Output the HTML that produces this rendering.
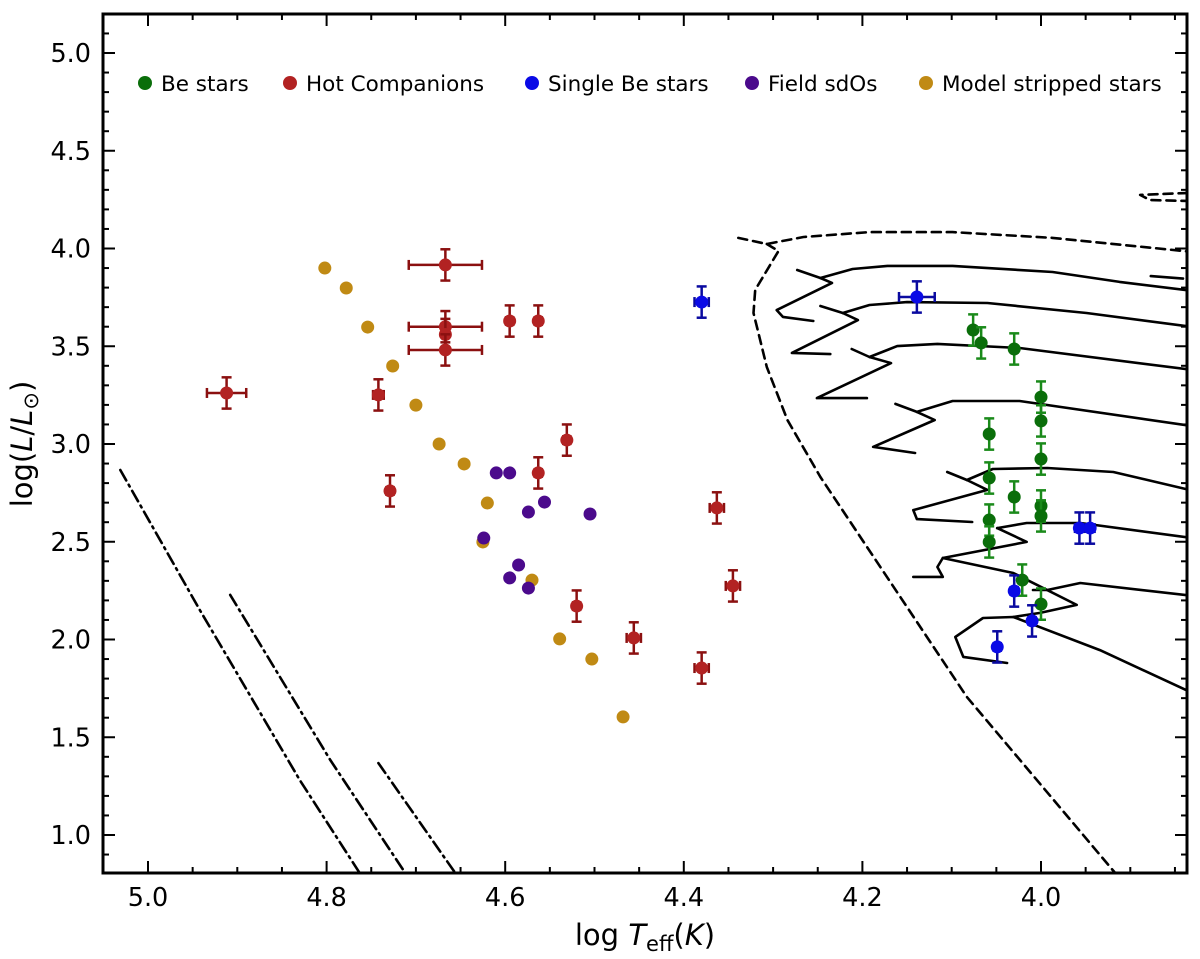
<!DOCTYPE html>
<html><head><meta charset="utf-8"><style>
body{margin:0;background:#fff;font-family:"DejaVu Sans","Liberation Sans",sans-serif;}
svg text{font-family:"DejaVu Sans","Liberation Sans",sans-serif;}
</style></head><body>
<svg id="chart" width="1200" height="955" xmlns="http://www.w3.org/2000/svg">
<g id="lines"></g>
<g id="marks"></g>
<g id="axes"></g>
<g id="legend"></g>
</svg>
<script>
// ---- data ----
const beT=[4.076,4.067,4.030,4.000,4.000,4.058,4.000,4.058,4.030,4.000,4.000,4.058,4.058,4.021,4.000];
const beL=[3.583,3.517,3.486,3.240,3.118,3.051,2.923,2.826,2.729,2.683,2.632,2.611,2.499,2.304,2.181];
const sbT=[4.380,4.139,3.957,3.945,4.030,4.010,4.049];
const sbL=[3.726,3.752,2.570,2.570,2.248,2.095,1.962];
const sbXe=[0.008,0.02,0.005,0.005,0.004,0.004,0.004];
const hcT=[4.912,4.667,4.667,4.667,4.667,4.595,4.563,4.742,4.729,4.531,4.563,4.363,4.345,4.520,4.456,4.380];
const hcL=[3.261,3.916,3.600,3.560,3.481,3.629,3.629,3.251,2.760,3.020,2.852,2.673,2.274,2.171,2.008,1.854];
const hcXe=[0.022,0.041,0.041,0.0,0.041,0.004,0.004,0.006,0.004,0.004,0.004,0.008,0.008,0.004,0.008,0.008];
const sdT=[4.610,4.595,4.556,4.574,4.505,4.624,4.585,4.595,4.574];
const sdL=[2.852,2.852,2.703,2.652,2.642,2.519,2.381,2.315,2.263];
const msT=[4.802,4.778,4.754,4.726,4.700,4.674,4.646,4.620,4.625,4.570,4.539,4.503,4.468];
const msL=[3.900,3.798,3.598,3.399,3.199,3.000,2.898,2.698,2.499,2.304,2.003,1.900,1.604];
const yErr=0.08;
const xTicks=[5.0,4.8,4.6,4.4,4.2,4.0];
const yTicks=[1.0,1.5,2.0,2.5,3.0,3.5,4.0,4.5,5.0];
const dd1T=[5.031,4.942,4.830,4.763], dd1L=[2.867,2.151,1.281,0.806];
const dd2T=[4.908,4.796,4.712], dd2L=[2.228,1.384,0.806];
const dd3T=[4.742,4.656], dd3L=[1.368,0.806];
const zT=[4.339,4.307,4.266,4.192,4.099,3.987,3.836];
const zL=[4.054,4.023,4.059,4.084,4.084,4.054,3.985];
const z2T=[4.307,4.294,4.320,4.322,4.307,4.284,4.247,4.083,3.917];
const z2L=[4.023,3.987,3.788,3.670,3.394,3.123,2.831,1.706,0.806];
const zsT=[3.836,3.889,3.878,3.836], zsL=[4.284,4.274,4.248,4.243];
const tracksT=[
 [4.255,4.289,4.296,4.234,4.247,4.273],[4.247,4.211,4.172,4.099,3.987,3.912,3.836],
 [4.236,4.279,4.205,4.222,4.247],[4.222,4.192,4.150,4.060,3.949,3.836],
 [4.195,4.251,4.168,4.192,4.212],[4.192,4.161,4.116,4.024,3.836],
 [4.141,4.188,4.119,4.139,4.163],[4.139,4.099,4.024,3.836],
 [4.077,4.139,4.143,4.060,4.083,4.105],[4.083,4.054,3.993,3.919,3.836],
 [4.143,4.110,4.116,4.110,4.016,4.049],[4.049,4.016,3.956,3.836],
 [4.110,4.031,3.960,4.001,4.031],[4.009,3.993,3.956,3.836],
 [4.038,4.087,4.096,4.065,4.031,3.934,3.836],
 [3.877,3.841]];
const tracksL=[
 [3.629,3.650,3.685,3.824,3.849,3.890],[3.849,3.895,3.911,3.911,3.880,3.829,3.786],
 [3.460,3.466,3.634,3.670,3.706],[3.670,3.711,3.726,3.721,3.670,3.602],
 [3.235,3.235,3.414,3.445,3.486],[3.445,3.501,3.512,3.491,3.382],
 [2.954,2.985,3.123,3.164,3.205],[3.164,3.220,3.220,3.095],
 [2.601,2.616,2.662,2.765,2.816,2.857],[2.816,2.872,2.877,2.857,2.768],
 [2.320,2.320,2.371,2.417,2.499,2.570],[2.570,2.596,2.596,2.522],
 [2.417,2.340,2.177,2.136,2.115],[2.253,2.253,2.289,2.226],
 [1.880,1.911,2.013,2.110,2.115,1.946,1.738],
 [3.859,3.846]];
// ---- scales ----
const L0=103,R0=1187,T0=14,B0=873;
const X=t=>148+(5.0-t)*893;
const Y=l=>53+(5.0-l)*195.5;
const NS="http://www.w3.org/2000/svg";
function mk(tag,attrs,parent){const e=document.createElementNS(NS,tag);for(const k in attrs)e.setAttribute(k,attrs[k]);parent.appendChild(e);return e;}
const lines=document.getElementById('lines'),marks=document.getElementById('marks'),axes=document.getElementById('axes'),leg=document.getElementById('legend');
function poly(Ts,Ls,dash,name){
  let d='';Ts.forEach((t,i)=>{d+=(i?'L':'M')+X(t).toFixed(1)+','+Y(Ls[i]).toFixed(1);});
  const p=mk('path',{d:d,fill:'none',stroke:'#000','stroke-width':2.6,'stroke-dasharray':dash||'none','stroke-linejoin':'round','stroke-linecap':'round'},lines);
  
  
}
const cp=mk('clipPath',{id:'cp'},document.getElementById('chart'));
mk('rect',{x:L0,y:T0,width:R0-L0,height:B0-T0},cp);
lines.setAttribute('clip-path','url(#cp)');
poly(dd1T,dd1L,'12,5,2,5','dashdot-line-1');
poly(dd2T,dd2L,'12,5,2,5','dashdot-line-2');
poly(dd3T,dd3L,'12,5,2,5','dashdot-line-3');
poly(zT,zL,'9,6','dashed-boundary-top');
poly(z2T,z2L,'9,6','dashed-boundary-lower');
poly(zsT,zsL,'9,6','dashed-small-top-right');
tracksT.forEach((tt,i)=>poly(tt,tracksL[i],null,'evolutionary-track-'+(i+1)));
function pts(Ts,Ls,col,ecol,xe,ye,name){
  Ts.forEach((t,i)=>{
    const cx=X(t),cy=Y(Ls[i]);
    if(ye){const g=mk('g',{stroke:ecol,'stroke-width':2.5},marks);
      
      
      const dy=ye*195.5;mk('line',{x1:cx,y1:cy-dy,x2:cx,y2:cy+dy},g);
      mk('line',{x1:cx-5,y1:cy-dy,x2:cx+5,y2:cy-dy},g);mk('line',{x1:cx-5,y1:cy+dy,x2:cx+5,y2:cy+dy},g);
      if(xe&&xe[i]){const dx=xe[i]*893;mk('line',{x1:cx-dx,y1:cy,x2:cx+dx,y2:cy},g);
        mk('line',{x1:cx-dx,y1:cy-5,x2:cx-dx,y2:cy+5},g);mk('line',{x1:cx+dx,y1:cy-5,x2:cx+dx,y2:cy+5},g);}
    }
    const c=mk('circle',{cx:cx,cy:cy,r:6.5,fill:col},marks);
    
    
  });
}
pts(msT,msL,'#c08a14',null,null,0,'model-stripped');
pts(sdT,sdL,'#4b0a8c',null,null,0,'field-sdo');
pts(hcT,hcL,'#b22222','#8b1010',hcXe,yErr,'hot-companion');
pts(beT,beL,'#0a6e0a','#1a8a1a',null,yErr,'be-star');
pts(sbT,sbL,'#0a0ae6','#0a0aa0',sbXe,yErr,'single-be');
// axes
const fr=mk('rect',{x:L0,y:T0,width:R0-L0,height:B0-T0,fill:'none',stroke:'#000','stroke-width':3},axes);


for(let v=3.85;v<=5.05;v+=0.05){const x=X(v);if(x<L0+1||x>R0-1)continue;
  const maj=Math.abs(v*5-Math.round(v*5))<1e-6;const len=maj?12:6;
  mk('line',{x1:x,y1:B0,x2:x,y2:B0-len,stroke:'#000','stroke-width':2},axes);
  mk('line',{x1:x,y1:T0,x2:x,y2:T0+len,stroke:'#000','stroke-width':2},axes);}
for(let v=0.9;v<=5.2;v+=0.1){const y=Y(v);if(y<T0+1||y>B0-1)continue;
  const maj=Math.abs(v*2-Math.round(v*2))<1e-6;const len=maj?12:6;
  mk('line',{x1:L0,y1:y,x2:L0+len,y2:y,stroke:'#000','stroke-width':2},axes);
  mk('line',{x1:R0,y1:y,x2:R0-len,y2:y,stroke:'#000','stroke-width':2},axes);}
xTicks.forEach(v=>{const t=mk('text',{x:X(v),y:906,'font-size':25.5,'text-anchor':'middle'},axes);t.textContent=v.toFixed(1);
  
  });
yTicks.forEach(v=>{const t=mk('text',{x:91,y:Y(v)+9,'font-size':25.5,'text-anchor':'end'},axes);t.textContent=v.toFixed(1);
  
  });
const xl=mk('text',{x:645,y:945,'font-size':29,'text-anchor':'middle'},axes);
xl.innerHTML='log <tspan font-style="italic">T</tspan><tspan font-size="21" dy="6">eff</tspan><tspan dy="-6">(<tspan font-style="italic">K</tspan>)</tspan>';


const yl=mk('text',{x:32,y:444,'font-size':29,'text-anchor':'middle',transform:'rotate(-90 32 444)'},axes);
yl.innerHTML='log(<tspan font-style="italic">L</tspan>/<tspan font-style="italic">L</tspan><tspan font-size="21" dy="6">⊙</tspan><tspan dy="-6">)</tspan>';


// legend
const legNames=['Be stars','Hot Companions','Single Be stars','Field sdOs','Model stripped stars'];
const legCols=['#0a6e0a','#b22222','#0a0ae6','#4b0a8c','#c08a14'];
const legX=[145,290,532,752,926];
legNames.forEach((n,i)=>{const g=mk('g',{},leg);
  
  
  mk('circle',{cx:legX[i],cy:83,r:7,fill:legCols[i]},g);
  const t=mk('text',{x:legX[i]+16,y:91,'font-size':21.5},g);t.textContent=n;});
</script>
</body></html>
